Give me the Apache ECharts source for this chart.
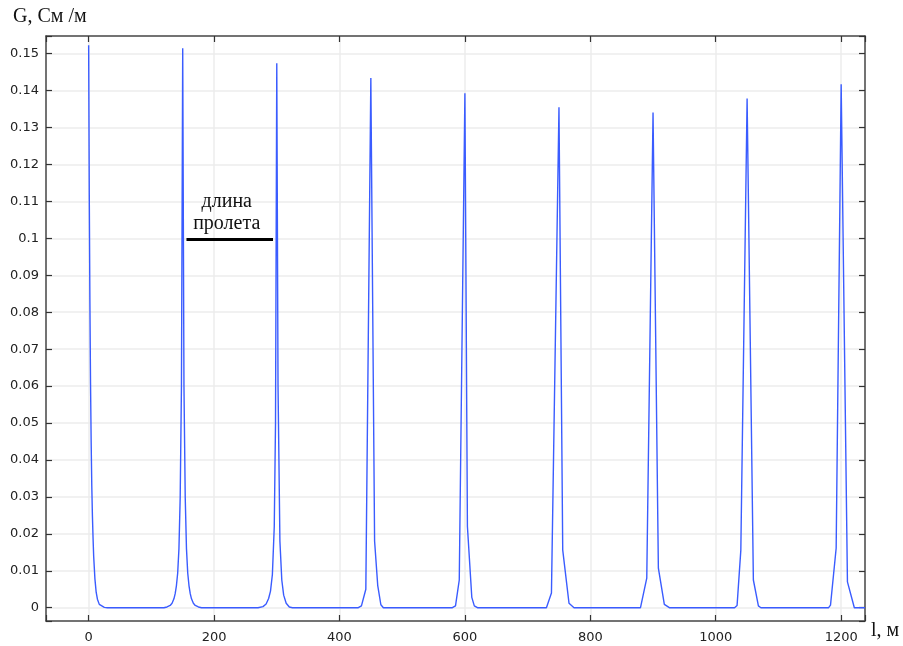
<!DOCTYPE html>
<html>
<head>
<meta charset="utf-8">
<script src="https://cdn.jsdelivr.net/npm/echarts@6/dist/echarts.min.js"></script>
<style>
  html, body { margin: 0; padding: 0; background: #fff; }
  #chart { width: 903px; height: 646px; }
</style>
</head>
<body>
<div id="chart"></div>
<script>
// длина вдоль линии, м
var distanceM = [
  0, 1, 2, 3, 4, 5, 6, 7, 8, 10, 12, 14, 17, 20, 25, 30,
  120, 125, 130, 133, 136, 138, 140, 142, 144, 146, 148, 150, 152, 154, 156, 158, 160, 162, 164, 167, 170, 175, 180,
  270, 278, 283, 287, 290, 293, 296, 298, 300, 302, 305, 308, 311, 315, 320, 325,
  430, 435, 442, 450, 456, 461, 466, 470,
  580, 585, 591, 600, 604, 611, 615, 620,
  730, 738, 750, 756, 766, 774,
  880, 890, 900, 908.5, 918, 926,
  1030, 1034, 1040, 1050, 1060, 1068, 1072,
  1180, 1183, 1192, 1200, 1210, 1221, 1238
]
// проводимость G, См/м
var conductance = [
  0.1523, 0.112, 0.083, 0.061, 0.045, 0.033, 0.025, 0.019, 0.014, 0.0078, 0.0042, 0.0023, 0.0009, 0.0004, 0.0001, 0,
  0, 0.0002, 0.0006, 0.0012, 0.0024, 0.0038, 0.006, 0.0094, 0.016, 0.03, 0.06, 0.1515, 0.06, 0.03, 0.016, 0.0094, 0.006, 0.0038, 0.0024, 0.0012, 0.0006, 0.0002, 0,
  0, 0.0003, 0.001, 0.0025, 0.0045, 0.009, 0.022, 0.05, 0.1474, 0.06, 0.018, 0.0075, 0.0034, 0.0012, 0.0002, 0,
  0, 0.0005, 0.005, 0.1434, 0.018, 0.006, 0.0008, 0,
  0, 0.0005, 0.0075, 0.1393, 0.022, 0.0028, 0.0005, 0,
  0, 0.004, 0.1355, 0.0156, 0.0012, 0,
  0, 0.008, 0.1341, 0.0107, 0.0009, 0,
  0, 0.0006, 0.0156, 0.1379, 0.0075, 0.0005, 0,
  0, 0.0007, 0.0161, 0.1417, 0.007, 0, 0
]
// отрезок "длина пролета"
var spanMarkX = [156, 294]
var spanMarkY = 0.0998

var xRange = [-68, 1238]
var yRange = [-0.0036, 0.1548]

var chart = echarts.init(document.getElementById('chart'))

var frameLine = { show: true, onZero: false, lineStyle: { color: '#4a4a4a', width: 1.5 } }
var tickIn = { show: true, inside: true, length: 6, lineStyle: { color: '#333', width: 1.2 } }
var gridLine = { show: true, lineStyle: { color: '#ececec', width: 1.5 } }

function xLabel(v) {
  return Math.abs(v % 200) < 1e-6 ? String(v) : ''
}
function yLabel(v) {
  var k = v * 100
  if (Math.abs(k - Math.round(k)) > 1e-6) return ''
  return String(Math.round(k) / 100)
}

var xBase = {
  type: 'value',
  min: xRange[0],
  max: xRange[1],
  minInterval: 200,
  maxInterval: 200,
  splitNumber: 7
}
var yBase = {
  type: 'value',
  min: yRange[0],
  max: yRange[1],
  minInterval: 0.01,
  maxInterval: 0.01,
  splitNumber: 16
}

chart.setOption({
  animation: false,
  grid: { left: 46, right: 38, top: 36, bottom: 25 },
  xAxis: [
    Object.assign({}, xBase, {
      position: 'bottom',
      name: 'l, м',
      nameLocation: 'end',
      nameGap: 6,
      nameTextStyle: { fontFamily: 'Liberation Serif', fontSize: 20, color: '#111', verticalAlign: 'top', padding: [0, 0, 0, 0] },
      axisLine: frameLine,
      axisTick: tickIn,
      splitLine: gridLine,
      axisLabel: { formatter: xLabel, color: '#222', fontFamily: 'DejaVu Sans', fontSize: 13, margin: 10 }
    }),
    Object.assign({}, xBase, {
      position: 'top',
      axisLine: frameLine,
      axisTick: tickIn,
      splitLine: { show: false },
      axisLabel: { show: false }
    })
  ],
  yAxis: [
    Object.assign({}, yBase, {
      position: 'left',
      name: 'G, См /м',
      nameLocation: 'end',
      nameGap: 9,
      nameTextStyle: { fontFamily: 'Liberation Serif', fontSize: 20, color: '#111', align: 'left', padding: [0, 0, 0, -33] },
      axisLine: frameLine,
      axisTick: tickIn,
      splitLine: gridLine,
      axisLabel: { formatter: yLabel, color: '#222', fontFamily: 'DejaVu Sans', fontSize: 13, margin: 7 }
    }),
    Object.assign({}, yBase, {
      position: 'right',
      axisLine: frameLine,
      axisTick: tickIn,
      splitLine: { show: false },
      axisLabel: { show: false }
    })
  ],
  series: [{
    type: 'line',
    xAxisIndex: 0,
    yAxisIndex: 0,
    showSymbol: false,
    symbol: 'none',
    lineStyle: { color: '#3a5cff', width: 1.4 },
    data: distanceM.map(function (x, i) { return [x, conductance[i]] }),
    markLine: {
      silent: true,
      symbol: 'none',
      lineStyle: { color: '#000', width: 3, type: 'solid' },
      label: {
        show: true,
        position: 'middle',
        formatter: 'длина\nпролета',
        fontFamily: 'Liberation Serif',
        fontSize: 20,
        lineHeight: 22,
        color: '#111',
        distance: 4,
        padding: [0, 6, 0, 0]
      },
      data: [[
        { coord: [spanMarkX[0], spanMarkY] },
        { coord: [spanMarkX[1], spanMarkY] }
      ]]
    }
  }]
})
</script>
</body>
</html>
